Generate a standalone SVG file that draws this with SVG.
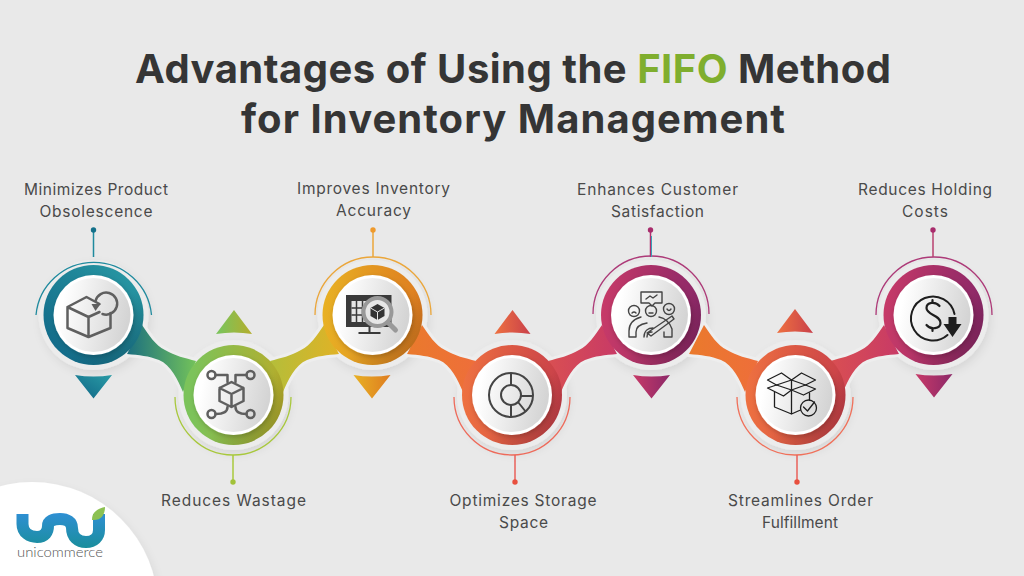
<svg xmlns="http://www.w3.org/2000/svg" width="1024" height="576" viewBox="0 0 1024 576">
<style>
.t{font-family:Inter,"Liberation Sans",sans-serif;font-weight:700;font-size:40px;fill:#353535}
.l{font-family:Inter,"Liberation Sans",sans-serif;font-size:15.5px;fill:#4a4a4a;text-anchor:middle}
.halo{fill:#ececec;filter:url(#sh)}
.shade{fill:url(#shade)}
.rim{fill:#fff;filter:url(#sh2)}
.face{fill:url(#face)}
.band{stroke:#eeeeee;stroke-width:6;paint-order:stroke;stroke-linejoin:round}
.arc{fill:none;stroke-width:1.3}
.stem{stroke-width:1.5}
.ic{fill:none;stroke:#5f5f5f;stroke-width:2.5;stroke-linejoin:round;stroke-linecap:round}
.ic2{fill:none;stroke:#444;stroke-width:1.4;stroke-linejoin:round;stroke-linecap:round}
.ic3{fill:none;stroke:#1e1e1e;stroke-width:1.3;stroke-linejoin:round;stroke-linecap:round}
</style>
<defs>
<filter id="sh" x="-30%" y="-30%" width="160%" height="160%"><feDropShadow dx="2" dy="4" stdDeviation="4" flood-color="#000" flood-opacity=".08"/></filter>
<filter id="sh2" x="-30%" y="-30%" width="160%" height="160%"><feDropShadow dx="1" dy="2" stdDeviation="2.5" flood-color="#000" flood-opacity=".22"/></filter>
<linearGradient id="face" x1="0" x2="1" y1="0.2" y2="0.4"><stop offset="0.1" stop-color="#ffffff"/><stop offset="1" stop-color="#d4d4d4"/></linearGradient>
<linearGradient id="shade" x1="0.1" y1="0.1" x2="0.9" y2="0.9"><stop offset="0.6" stop-color="#000" stop-opacity="0"/><stop offset="1" stop-color="#000" stop-opacity=".18"/></linearGradient>
<linearGradient id="g1" x1="0" y1="1" x2="1" y2="0"><stop offset="0" stop-color="#0f6485"/><stop offset="1" stop-color="#2a9ca6"/></linearGradient>
<linearGradient id="g2" x1="0" x2="1"><stop offset="0.1" stop-color="#7cc35a"/><stop offset="1" stop-color="#b5ad2c"/></linearGradient>
<linearGradient id="g3" x1="0" x2="1"><stop offset="0" stop-color="#e8b124"/><stop offset="1" stop-color="#de7c20"/></linearGradient>
<linearGradient id="g4" x1="0" x2="1"><stop offset="0" stop-color="#ee7140"/><stop offset="1" stop-color="#c9404a"/></linearGradient>
<linearGradient id="g5" x1="0" x2="1"><stop offset="0" stop-color="#c73a68"/><stop offset="1" stop-color="#8c2868"/></linearGradient>
<linearGradient id="b1" x1="0" x2="1"><stop offset="0" stop-color="#1b6f80"/><stop offset="1" stop-color="#73c25a"/></linearGradient>
<linearGradient id="b2" x1="0" x2="1"><stop offset="0" stop-color="#e0b226"/><stop offset="1" stop-color="#b4be3a"/></linearGradient>
<linearGradient id="b3" x1="0" x2="1"><stop offset="0" stop-color="#ea7a2c"/><stop offset="1" stop-color="#ee6e3a"/></linearGradient>
<linearGradient id="b4" x1="0" x2="1"><stop offset="0" stop-color="#c83a66"/><stop offset="1" stop-color="#d94f52"/></linearGradient>
<linearGradient id="logo" gradientUnits="userSpaceOnUse" x1="0" y1="514" x2="0" y2="548"><stop offset="0" stop-color="#2e8fd2"/><stop offset="1" stop-color="#1a8e9c"/></linearGradient>
<path id="down" d="M49,10C56,20 62,30 72,35C82,41 92,43 103,46L90,77C85,65 78,50 66,45C56,41 46,40 34,39Z"/>
<path id="td" d="M-18.5,0Q0,3 18.5,0L0,23.5Z"/>
<path id="tu" d="M-18,0Q0,-3 18,0L0,-24Z"/>
</defs>
<rect width="1024" height="576" fill="#e9e9e9"/>
<g id="title">
<text class="t" x="135" y="83" textLength="756" lengthAdjust="spacing">Advantages of Using the <tspan fill="#7fae2e">FIFO</tspan> Method</text>
<text class="t" x="241" y="133" textLength="544" lengthAdjust="spacing">for Inventory Management</text>
</g>
<g id="logo-corner">
<circle cx="32" cy="608" r="126" fill="#fff" filter="url(#sh)"/>
<path d="M22.500,514V524C22.500,533 30,537 37,537C45,537 48,532 48,526C48,521 53,519 60,519C67,519 72,522 72,528C72,537 78,542 86,542C94,542 99,537 99,530V514" fill="none" stroke="url(#logo)" stroke-width="12"/>
<path d="M92,520C92,512 97,509 105,507C105,515 101,521 92,520Z" fill="#8cc152"/>
<text x="17" y="557" textLength="86" lengthAdjust="spacingAndGlyphs" font-family="Lato,'Liberation Sans',sans-serif" font-weight="300" font-size="14" fill="#555">unicommerce</text>
</g>
<g id="halos">
<circle class="halo" cx="93.500" cy="315" r="55"/><circle class="halo" cx="233.500" cy="395" r="55"/><circle class="halo" cx="372.500" cy="315" r="55"/><circle class="halo" cx="512" cy="395" r="55"/><circle class="halo" cx="651" cy="315" r="55"/><circle class="halo" cx="795.500" cy="395" r="55"/><circle class="halo" cx="933.500" cy="315" r="55"/>
</g>
<g id="connectors">
<use href="#down" class="band" transform="translate(93,315)" fill="url(#b1)"/>
<use href="#down" class="band" transform="translate(373,315) scale(-1,1)" fill="url(#b2)"/>
<use href="#down" class="band" transform="translate(373,315)" fill="url(#b3)"/>
<use href="#down" class="band" transform="translate(651,315) scale(-1,1)" fill="url(#b4)"/>
<use href="#down" class="band" transform="translate(655,315)" fill="url(#b3)"/>
<use href="#down" class="band" transform="translate(933,315) scale(-1,1)" fill="url(#b4)"/>
</g>
<g id="node-1">
<path class="arc" stroke="#1f8a9e" d="M36,315A58,58 0 0 1 151.500,315"/>
<line class="stem" stroke="#1f8a9e" x1="93.500" y1="230" x2="93.500" y2="257"/><circle cx="93.500" cy="230" r="2.700" fill="#14708a"/>
<use href="#td" transform="translate(93.500,375)" fill="url(#g1)"/>
<g transform="translate(93.500,315)"><circle r="50" fill="url(#g1)"/><circle r="50" class="shade"/><circle r="40" class="rim"/><circle r="37" class="face"/>
<path class="ic" d="M-26,-8L-7,-18L6,-11M-26,-8L-26,13L-5,22L17,13L17,-2M-26,-8L-5,2L6,-3M-5,2V22"/><path class="ic" d="M2,-14A11,11 0 1 1 9,-1"/><path d="M-2,-11H7L2,-4Z" fill="#5f5f5f"/></g>
<text class="l" x="96" y="195" textLength="144">Minimizes Product</text><text class="l" x="96" y="217" textLength="113">Obsolescence</text>
</g>
<g id="node-2">
<path class="arc" stroke="#a8c83c" d="M175,397A58,58 0 0 0 291,397"/>
<line class="stem" stroke="#a8c83c" x1="233" y1="455" x2="233" y2="482"/><circle cx="233" cy="482" r="2.700" fill="#a2c23a"/>
<use href="#tu" transform="translate(234,334)" fill="url(#g2)"/>
<g transform="translate(233.500,395)"><circle r="50" fill="url(#g2)"/><circle r="50" class="shade"/><circle r="40" class="rim"/><circle r="37" class="face"/>
<g class="ic"><circle cx="-22" cy="-20" r="4"/><circle cx="17" cy="-20" r="4"/><circle cx="-22" cy="19" r="4"/><circle cx="17" cy="19" r="4"/>
<path d="M-18,-20H-6V-13M13,-20H2V-13M-18,19C-12,19 -6,18 -6,12M13,19C8,19 2,18 2,12"/>
<path d="M-2,-13L10,-7V6L-2,12L-14,6V-7ZM-14,-7L-2,-1L10,-7M-2,-1V12"/></g></g>
<text class="l" x="233.500" y="506" textLength="145">Reduces Wastage</text>
</g>
<g id="node-3">
<path class="arc" stroke="#eba63a" d="M315,315A58,58 0 0 1 431,315"/>
<line class="stem" stroke="#eba63a" x1="373" y1="230" x2="373" y2="257"/><circle cx="373" cy="230" r="2.700" fill="#ef9a2c"/>
<use href="#td" transform="translate(372,375)" fill="url(#g3)"/>
<g transform="translate(372.500,315)"><circle r="50" fill="url(#g3)"/><circle r="50" class="shade"/><circle r="40" class="rim"/><circle r="37" class="face"/>
<path d="M-26.500,-20H19V12H-26.500Z" fill="#3a3a3a"/><path d="M-21,-14H-5V7H-21Z" fill="#e6e6e6"/><path d="M-16,-14V7M-10,-14V7M-21,-7H-5M-21,0H-5" stroke="#3a3a3a" stroke-width="1.500"/>
<path d="M-8,12H-4V17H-14V19H8V17H-2V12Z" fill="#3a3a3a"/>
<path d="M14,6L23,15" stroke="#999" stroke-width="5" stroke-linecap="round"/><circle cx="5" cy="-3" r="14" fill="#e6e6e6" stroke="#999" stroke-width="4"/>
<path d="M5,-11L12,-7V1L5,5L-2,1V-7Z" fill="#333"/><path d="M-2,-7L5,-3L12,-7M5,-3V5" stroke="#e6e6e6" stroke-width="1" fill="none"/></g>
<text class="l" x="373.500" y="194" textLength="153">Improves Inventory</text><text class="l" x="373.500" y="216" textLength="75">Accuracy</text>
</g>
<g id="node-4">
<path class="arc" stroke="#ee6a5a" d="M454,397A58,58 0 0 0 570,397"/>
<line class="stem" stroke="#e8605a" x1="515" y1="455" x2="515" y2="482"/><circle cx="515" cy="482" r="2.700" fill="#e8503f"/>
<use href="#tu" transform="translate(512.500,334)" fill="url(#g4)"/>
<g transform="translate(512,395)"><circle r="50" fill="url(#g4)"/><circle r="50" class="shade"/><circle r="40" class="rim"/><circle r="37" class="face"/>
<g fill="none" stroke="#444" stroke-width="2"><circle cx="-1" cy="0" r="22"/><circle cx="-1" cy="0" r="10"/><path d="M-1,-22V-10M-1,10V22M6,7L14,17M9,1H21"/></g></g>
<text class="l" x="523" y="506" textLength="147">Optimizes Storage</text><text class="l" x="523.500" y="528" textLength="49">Space</text>
</g>
<g id="node-5">
<path class="arc" stroke="#ad3a78" d="M593,314A58,58 0 0 1 709,314"/>
<line class="stem" stroke="#b0306f" x1="650.500" y1="230" x2="650.500" y2="257"/><line stroke="#3aa0b8" x1="651.500" y1="236" x2="651.500" y2="257"/><circle cx="650.500" cy="230" r="2.700" fill="#a82c6c"/>
<use href="#td" transform="translate(651.500,375)" fill="url(#g5)"/>
<g transform="translate(651,315)"><circle r="50" fill="url(#g5)"/><circle r="50" class="shade"/><circle r="40" class="rim"/><circle r="37" class="face"/>
<g class="ic2"><path d="M-10,-23H11V-12H4L1,-9L-2,-12H-10Z"/><path d="M-5,-16L-1,-19L2,-17L6,-20"/>
<circle cx="-17" cy="-4" r="5.500"/><circle cx="0" cy="-4" r="5.500"/><circle cx="18" cy="-6" r="5.500"/>
<path d="M-19,-2Q-17,-4 -15,-2M-2,-2H2M16,-6Q18,-3 20,-6"/>
<path d="M-22,22V16C-22,9 -17,4 -10,2M-22,22H-15V17C-15,12 -10,9 -4,8M8,2C14,3 19,8 21,14V22H13V17"/>
<path d="M-4,18L21,1L23,4L0,21ZM-7,22C-7,16 -3,13 2,13M-4,22C-4,18 -2,17 1,17"/></g></g>
<text class="l" x="657.500" y="195" textLength="161">Enhances Customer</text><text class="l" x="657.500" y="217" textLength="93">Satisfaction</text>
</g>
<g id="node-6">
<path class="arc" stroke="#f0705a" d="M737,397A58,58 0 0 0 853,397"/>
<line class="stem" stroke="#e8605a" x1="797" y1="455" x2="797" y2="482"/><circle cx="797" cy="482" r="2.700" fill="#e8503f"/>
<use href="#tu" transform="translate(795,333)" fill="url(#g4)"/>
<g transform="translate(795.500,395)"><circle r="50" fill="url(#g4)"/><circle r="50" class="shade"/><circle r="40" class="rim"/><circle r="37" class="face"/>
<g class="ic3"><path d="M-28,-15L-14,-22L-4,-15L6,-22L20,-15L10,-10L-4,-15L-19,-10Z"/><path d="M-28,-7L-19,-10L-4,-5L-12,1ZM-4,-5L10,-10L20,-6L8,0Z"/><path d="M-21,-3V12L-4,19L5,15M-4,-15V19M14,-2V5"/><circle cx="13" cy="13" r="8"/><path d="M8,12L12,16L19,7"/></g></g>
<text class="l" x="800.500" y="506" textLength="145">Streamlines Order</text><text class="l" x="800" y="528" textLength="76">Fulfillment</text>
</g>
<g id="node-7">
<path class="arc" stroke="#ad3a78" d="M876,315A58,58 0 0 1 992,315"/>
<line class="stem" stroke="#b8406f" x1="933" y1="230" x2="933" y2="257"/><circle cx="933" cy="230" r="2.700" fill="#a82c6c"/>
<use href="#td" transform="translate(934,374)" fill="url(#g5)"/>
<g transform="translate(933.500,315)"><circle r="50" fill="url(#g5)"/><circle r="50" class="shade"/><circle r="40" class="rim"/><circle r="37" class="face"/>
<g fill="none" stroke="#1e1e1e" stroke-width="2" stroke-linecap="round"><path d="M14,20A22,22 0 1 1 21,-1"/><path d="M6,-9C2,-14 -7,-13 -7,-7C-7,0 7,0 7,8C7,14 -3,15 -7,10M-1,-15V-12M-1,13V16" stroke-width="2.200"/></g>
<path d="M15,2H23V9H28L19,22L10,9H15Z" fill="#1e1e1e"/></g>
<text class="l" x="925" y="195" textLength="134">Reduces Holding</text><text class="l" x="925" y="217" textLength="46">Costs</text>
</g>
</svg>
